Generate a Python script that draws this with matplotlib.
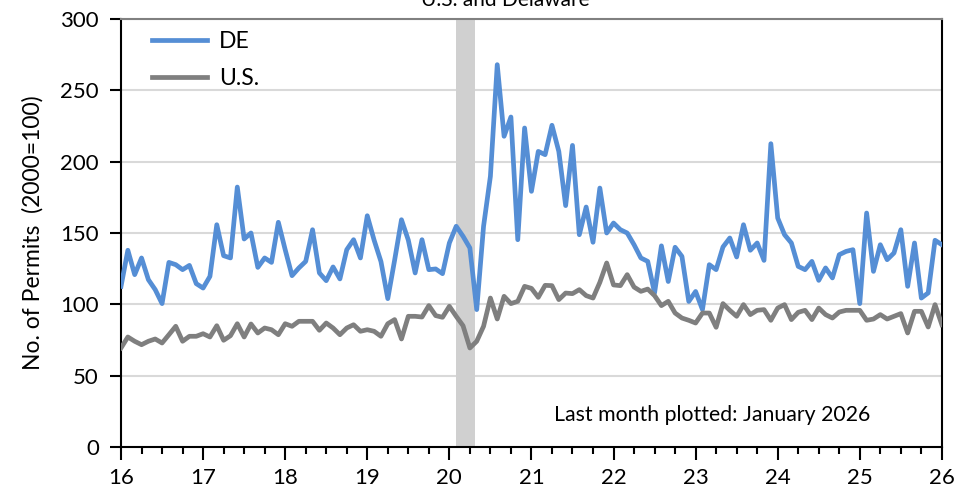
import matplotlib
matplotlib.use("Agg")
import matplotlib.pyplot as plt
from matplotlib.ticker import MultipleLocator
import numpy as np

plt.rcParams['font.family'] = ['Lato', 'DejaVu Sans']

start_year = 16
de = [112.6, 137.9, 120.8, 132.5, 117.3, 110.3, 100.5, 129.4, 127.8, 124.3, 127.3, 114.5,
      111.4, 119.6, 155.8, 134.1, 132.5, 182.2, 145.8, 150.0, 125.9, 132.5, 129.4, 157.5,
      138.3, 120.1, 125.5, 130.1, 152.3, 122.0, 116.6, 126.2, 117.8, 138.3, 145.3, 132.5,
      162.1, 145.0, 130.0, 104.0, 131.0, 159.3, 145.0, 122.0, 145.3, 124.3, 124.8, 121.5,
      143.0, 154.7, 147.7, 139.5, 96.3, 154.7, 189.7, 268.0, 217.8, 231.3, 145.3, 223.6,
      179.2, 207.2, 204.9, 225.5, 207.2, 169.2, 211.4, 148.8, 168.2, 143.5, 181.5, 150.0,
      157.0, 152.3, 150.0, 141.8, 132.5, 130.1, 108.0, 141.0, 116.0, 140.0, 133.6, 102.0,
      109.0, 96.3, 127.8, 124.3, 140.2, 146.5, 133.2, 155.8, 137.9, 143.0, 130.8, 212.6,
      160.5, 148.8, 143.0, 126.6, 124.3, 130.1, 116.8, 125.5, 118.5, 134.8, 137.1, 138.3,
      100.5, 164.0, 123.1, 141.8, 131.3, 136.0, 152.3, 112.6, 143.0, 104.4, 108.0, 144.9,
      141.8]
us = [69.4, 77.1, 74.1, 71.7, 74.1, 75.7, 72.9, 78.7, 84.6, 74.1, 77.6, 77.6,
      79.4, 77.1, 85.0, 74.8, 78.0, 86.4, 77.1, 86.2, 79.9, 83.4, 82.2, 78.7,
      86.4, 84.6, 88.1, 88.1, 88.1, 81.8, 86.9, 83.4, 78.7, 83.4, 85.7, 81.1,
      82.2, 81.1, 77.6, 86.4, 89.3, 75.7, 91.6, 91.6, 91.1, 99.1, 92.1, 90.9,
      98.6, 91.6, 85.0, 69.4, 74.1, 84.6, 104.4, 89.7, 105.6, 100.5, 102.1, 112.6,
      111.2, 104.9, 113.3, 113.1, 103.3, 107.9, 107.5, 110.3, 106.1, 104.4, 115.4, 129.0,
      113.6, 113.1, 120.8, 112.1, 109.1, 110.7, 106.1, 99.1, 102.1, 93.9, 90.4, 88.8,
      86.9, 93.9, 93.9, 83.9, 100.5, 95.8, 91.6, 99.8, 92.8, 95.8, 96.3, 88.8,
      97.4, 99.8, 89.3, 94.4, 95.8, 89.3, 97.4, 92.8, 90.4, 94.6, 95.8, 95.8,
      95.8, 88.8, 89.7, 92.8, 89.7, 91.6, 93.5, 79.9, 95.1, 95.1, 84.1, 99.8,
      85.7]
recession = (20 + 1/12, 20 + 3.8/12)
year_labels = [str(y) for y in range(16, 27)]

x = start_year + np.arange(len(de)) / 12.0

fig = plt.figure(figsize=(9.72, 4.95), dpi=100)
ax = fig.add_axes([0.1245, 0.097, 0.8445, 0.8646])

ax.axvspan(recession[0], recession[1], color='#d0d0d0', zorder=1, lw=0)
for v in range(50, 301, 50):
    ax.axhline(v, color='#d9d9d9', lw=1.5, zorder=0)

ax.plot(x, de, color='#558ed5', lw=3.4, label='DE', zorder=3, solid_joinstyle='round')
ax.plot(x, us, color='#7f7f7f', lw=3.4, label='U.S.', zorder=4, solid_joinstyle='round')

ax.set_xlim(16, 26)
ax.set_ylim(0, 300)
ax.xaxis.set_minor_locator(MultipleLocator(0.25))
ax.yaxis.set_major_locator(MultipleLocator(50))
ax.set_xticks(range(16, 27))
ax.set_xticklabels(year_labels)
ax.tick_params(axis='x', which='major', direction='out', length=9, width=1.5, labelsize=16, pad=6)
ax.tick_params(axis='x', which='minor', direction='out', length=5, width=1.5)
ax.tick_params(axis='y', which='major', direction='out', length=8, width=1.5, labelsize=16, pad=8)

for s in ['left', 'bottom', 'right']:
    ax.spines[s].set_color('black')
    ax.spines[s].set_linewidth(1.5)
ax.spines['top'].set_color('#808080')
ax.spines['top'].set_linewidth(1.5)

ax.set_ylabel('No. of Permits  (2000=100)', fontsize=16.5, labelpad=12)

leg = ax.legend(loc='upper left', bbox_to_anchor=(0.013, 1.02), frameon=False,
                fontsize=16.5, handlelength=2.4, handletextpad=0.5, labelspacing=0.68)

ax.text(0.72, 0.075, 'Last month plotted: January 2026', transform=ax.transAxes,
        ha='center', va='center', fontsize=15.3)
fig.text(0.52, 1.0, 'U.S. and Delaware', ha='center', va='center', fontsize=15)

fig.savefig('out.png', dpi=100)
